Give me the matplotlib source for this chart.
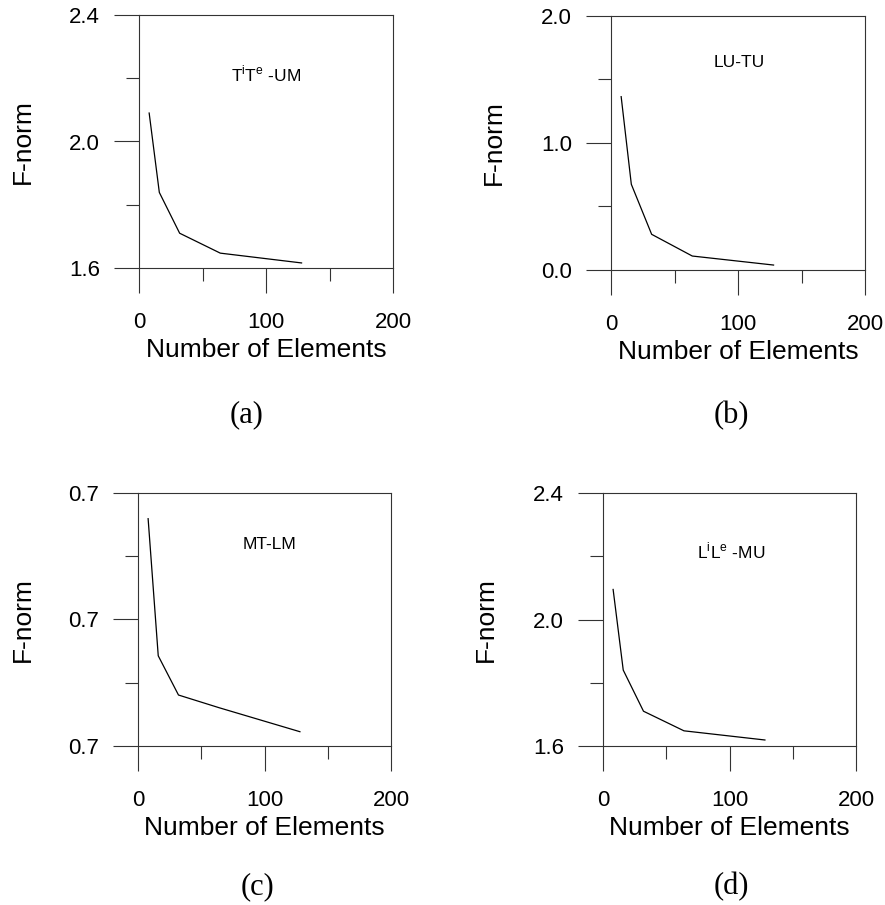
import matplotlib
matplotlib.use("Agg")
import matplotlib.pyplot as plt
from matplotlib.ticker import MultipleLocator, FormatStrFormatter

plt.rcParams['font.family'] = ['Liberation Sans', 'DejaVu Sans']
plt.rcParams['mathtext.fontset'] = 'custom'
plt.rcParams['mathtext.rm'] = 'Liberation Sans'

# ---- data ----
n_elements = [8, 16, 32, 64, 128]
fnorm_a = [2.090, 1.839, 1.710, 1.647, 1.616]
fnorm_b = [1.365, 0.675, 0.281, 0.110, 0.039]
fnorm_c = [0.700797, 0.699713, 0.699403, 0.699303, 0.699113]
fnorm_d = [2.095, 1.840, 1.710, 1.648, 1.619]

titles = [r"T$^{\mathregular{i}}$T$^{\mathregular{e}}$ -UM", "LU-TU", "MT-LM",
          r"L$^{\mathregular{i}}$L$^{\mathregular{e}}$ -MU"]
panel_labels = ["(a)", "(b)", "(c)", "(d)"]
ylims = [(1.6, 2.4), (0.0, 2.0), (0.699, 0.701), (1.6, 2.4)]
ymajor = [0.4, 1.0, 0.001, 0.4]
xlim = (0, 200)
xlabel = "Number of Elements"
ylabel = "F-norm"

W, H = 885, 905
fig = plt.figure(figsize=(W / 100, H / 100), dpi=100)

# axes boxes in pixels: left, right, top, bottom
boxes = [(139, 393, 15, 268), (611, 865, 16, 270),
         (138, 391, 493, 746), (603, 856, 493, 746)]
title_pos = [(0.5, 0.736), (0.504, 0.80), (0.52, 0.777), (0.507, 0.742)]
ylabel_x = [23, 494, 22.5, 486]
xlabel_base = [357, 359, 835, 835]
panel_pos = [(247, 422), (731, 423), (258, 894), (731, 894)]

series = [fnorm_a, fnorm_b, fnorm_c, fnorm_d]
spine_col = '#333333'

for i in range(4):
    l, r, t, b = boxes[i]
    ax = fig.add_axes([l / W, 1 - b / H, (r - l) / W, (b - t) / H])
    ax.plot(n_elements, series[i], color='black', lw=0.9)
    ax.set_xlim(*xlim)
    ax.set_ylim(*ylims[i])
    ax.xaxis.set_major_locator(MultipleLocator(100))
    ax.xaxis.set_minor_locator(MultipleLocator(50))
    ax.yaxis.set_major_locator(MultipleLocator(ymajor[i]))
    ax.yaxis.set_minor_locator(MultipleLocator(ymajor[i] / 2))
    ax.yaxis.set_major_formatter(FormatStrFormatter('%.1f'))
    ax.tick_params(which='major', direction='out', length=18, width=0.8,
                   color=spine_col, labelsize=16)
    ax.tick_params(which='minor', direction='out', length=9.5, width=0.8,
                   color=spine_col)
    ax.tick_params(axis='x', which='major', pad=14)
    ax.tick_params(axis='y', which='major', pad=10)
    for s in ax.spines.values():
        s.set_color(spine_col)
        s.set_linewidth(0.8)
    ax.text(title_pos[i][0], title_pos[i][1], titles[i], transform=ax.transAxes,
            ha='center', va='baseline', fontsize=12.5)
    # axis labels
    cx = (l + r) / 2
    fig.text(cx / W, 1 - xlabel_base[i] / H, xlabel, ha='center', va='baseline',
             fontsize=19)
    fig.text(ylabel_x[i] / W, 1 - ((t + b) / 2) / H, ylabel, rotation=90,
             ha='center', va='center', fontsize=19)
    fig.text(panel_pos[i][0] / W, 1 - panel_pos[i][1] / H, panel_labels[i],
             ha='center', va='baseline', fontsize=22, family='Liberation Serif')

fig.savefig("out.png", dpi=100)
